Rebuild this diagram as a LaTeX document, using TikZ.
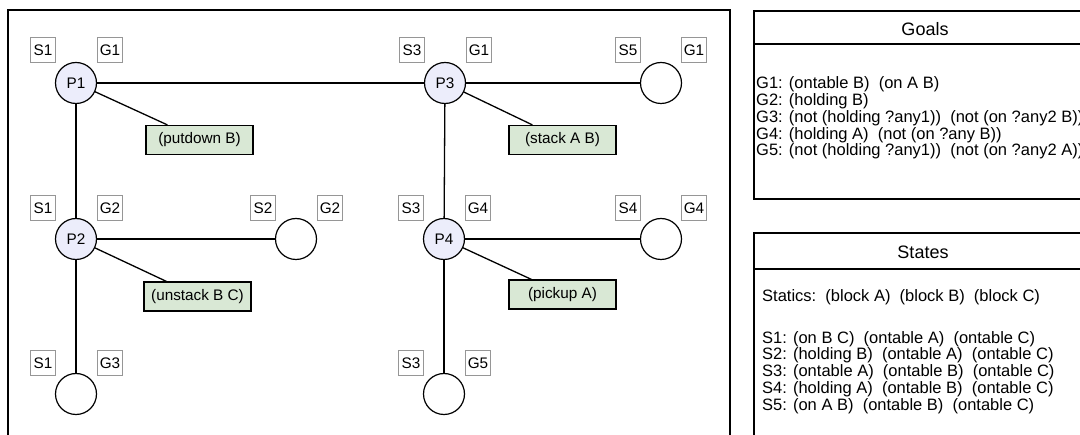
\documentclass[tikz,border=0pt]{standalone}
\usepackage{fontspec}
\setmainfont{Liberation Sans}
\definecolor{pfill}{RGB}{236,237,251}
\definecolor{actfill}{RGB}{217,232,213}
\definecolor{taggray}{RGB}{150,150,150}
\newcommand\fsnode{\fontsize{15.3pt}{18pt}\selectfont}
\newcommand\fstext{\fontsize{16.5pt}{17pt}\selectfont}
\newcommand\fshead{\fontsize{18pt}{20pt}\selectfont}
\tikzset{
  pnode/.style={circle,draw,line width=1.2pt,fill=pfill,minimum size=41pt,inner sep=0pt,font=\fsnode},
  snode/.style={circle,draw,line width=1.2pt,fill=white,minimum size=41pt,inner sep=0pt},
  tag/.style={draw=taggray,line width=1pt,fill=white,minimum width=25pt,minimum height=25pt,inner sep=0pt,font=\fsnode},
  act/.style={draw,line width=1.2pt,fill=actfill,minimum width=107pt,minimum height=29pt,inner sep=0pt,font=\fsnode},
  conn/.style={line width=1.3pt},
  frame/.style={line width=1.3pt},
  txt/.style={anchor=base west,inner sep=0pt,font=\fstext},
  head/.style={inner sep=0pt,font=\fshead}
}
\begin{document}
\begin{tikzpicture}[x=1pt,y=-1pt]
\useasboundingbox (0,0) rectangle (1080,435);
\clip (0,0) rectangle (1080,435);
\fill[white] (0,0) rectangle (1080,435);
% main frame
\draw[frame] (8,10) rectangle (730,460);
\coordinate (p1c) at (76,83);
\coordinate (p3c) at (445,83);
\coordinate (s5c) at (661,83);
\coordinate (p2c) at (76,239);
\coordinate (s2c) at (296,239);
\coordinate (p4c) at (444,239);
\coordinate (s4c) at (661,239);
\coordinate (b1c) at (76,394);
\coordinate (b2c) at (444,394);
% action boxes
\node[act] (pd) at (199.5,140) {(putdown B)};
\node[act] (st) at (562.5,140) {(stack A B)};
\node[act] (us) at (197.5,296.5) {(unstack B C)};
\node[act] (pu) at (562.5,294.5) {(pickup A)};
% connectors
\draw[conn] (p1c) -- (p3c);
\draw[conn] (p3c) -- (s5c);
\draw[conn] (p1c) -- (p2c);
\draw[conn] (p2c) -- (s2c);
\draw[conn] (p2c) -- (b1c);
\draw[conn] (p3c) -- (p4c);
\draw[conn] (p4c) -- (s4c);
\draw[conn] (p4c) -- (b2c);
\draw[conn] (p1c) -- ([xshift=22pt]pd.north west);
\draw[conn] (p3c) -- ([xshift=24pt]st.north west);
\draw[conn] (p2c) -- ([xshift=23pt]us.north west);
\draw[conn] (p4c) -- ([xshift=23pt]pu.north west);
% state nodes
\node[pnode] (p1) at (p1c) {P1};
\node[pnode] (p3) at (p3c) {P3};
\node[snode] (s5) at (s5c) {};
\node[pnode] (p2) at (p2c) {P2};
\node[snode] (s2) at (s2c) {};
\node[pnode] (p4) at (p4c) {P4};
\node[snode] (s4) at (s4c) {};
\node[snode] (b1) at (b1c) {};
\node[snode] (b2) at (b2c) {};
% tags
\node[tag] (p1s) at ([shift={(-33,-33)}]p1c) {S1};
\node[tag] (p1g) at ([shift={(34,-33)}]p1c) {G1};
\node[tag] (p3s) at ([shift={(-33,-33)}]p3c) {S3};
\node[tag] (p3g) at ([shift={(34,-33)}]p3c) {G1};
\node[tag] (s5s) at ([shift={(-33,-33)}]s5c) {S5};
\node[tag] (s5g) at ([shift={(33,-33)}]s5c) {G1};
\node[tag] (p2s) at ([shift={(-33,-31)}]p2c) {S1};
\node[tag] (p2g) at ([shift={(34,-31)}]p2c) {G2};
\node[tag] (s2s) at ([shift={(-33,-31)}]s2c) {S2};
\node[tag] (s2g) at ([shift={(34,-31)}]s2c) {G2};
\node[tag] (p4s) at ([shift={(-33,-31)}]p4c) {S3};
\node[tag] (p4g) at ([shift={(34,-31)}]p4c) {G4};
\node[tag] (s4s) at ([shift={(-33,-31)}]s4c) {S4};
\node[tag] (s4g) at ([shift={(33,-31)}]s4c) {G4};
\node[tag] (b1s) at ([shift={(-33,-31)}]b1c) {S1};
\node[tag] (b1g) at ([shift={(34,-31)}]b1c) {G3};
\node[tag] (b2s) at ([shift={(-33,-31)}]b2c) {S3};
\node[tag] (b2g) at ([shift={(34,-31)}]b2c) {G5};
% Goals box
\draw[line width=1.1pt] (754,11) rectangle (1100,199);
\draw[line width=1.1pt] (754,44) -- (1100,44);
\node[head] (gh) at (925,29) {Goals};
\node[txt] (g1) at (756,89) {G1: (ontable B)\ \ (on A B)};
\node[txt] (g2) at (756,105.7) {G2: (holding B)};
\node[txt] (g3) at (756,122.4) {G3: (not (holding ?any1))\ \ (not (on ?any2 B))};
\node[txt] (g4) at (756,139.1) {G4: (holding A)\ \ (not (on ?any B))};
\node[txt] (g5) at (756,155.8) {G5: (not (holding ?any1))\ \ (not (on ?any2 A))};
% States box
\draw[line width=1.1pt] (754,233) rectangle (1100,460);
\draw[line width=1.1pt] (754,269) -- (1100,269);
\node[head] (sh) at (923,252) {States};
\node[txt] (st0) at (762,302) {Statics:\ \ (block A)\ \ (block B)\ \ (block C)};
\node[txt] (st1) at (762,343.3) {S1: (on B C)\ \ (ontable A)\ \ (ontable C)};
\node[txt] (st2) at (762,360) {S2: (holding B)\ \ (ontable A)\ \ (ontable C)};
\node[txt] (st3) at (762,376.7) {S3: (ontable A)\ \ (ontable B)\ \ (ontable C)};
\node[txt] (st4) at (762,393.3) {S4: (holding A)\ \ (ontable B)\ \ (ontable C)};
\node[txt] (st5) at (762,410.3) {S5: (on A B)\ \ (ontable B)\ \ (ontable C)};
\end{tikzpicture}
\end{document}
